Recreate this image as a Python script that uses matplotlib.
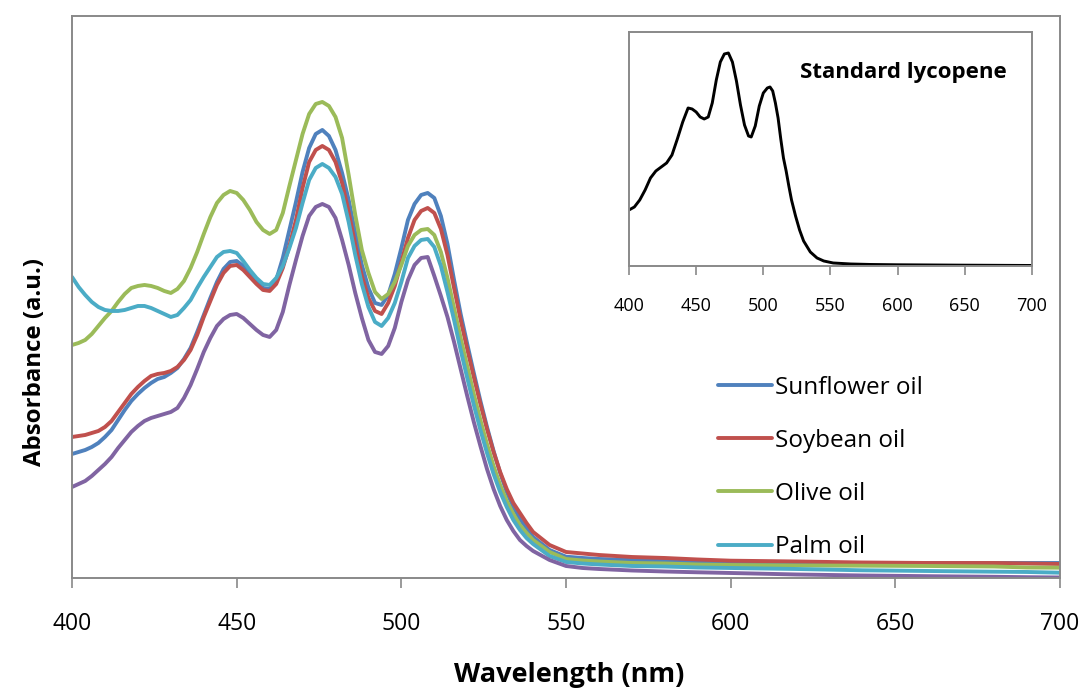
import numpy as np
import matplotlib
matplotlib.use("Agg")
import matplotlib.pyplot as plt

plt.rcParams['font.family'] = ['Open Sans', 'DejaVu Sans']

# wavelength grid (nm) shared by the oil spectra
wl = list(range(400, 541, 2)) + [545, 550, 555, 560, 570, 580, 590, 600,
                                 620, 640, 660, 680, 690, 700]

# absorbance (a.u.)
sunflower = [
    124, 126, 128, 131, 135, 141, 148, 158, 168, 177, 184, 190, 195, 199, 201, 205,
    210, 219, 230, 246, 263, 280, 296, 309, 316, 317, 312, 304, 296, 290, 289, 298,
    320, 348, 376, 406, 430, 444, 448, 442, 428, 405, 378, 345, 313, 290, 275, 273,
    283, 304, 330, 358, 374, 383, 385, 380, 362, 334, 298, 264, 234, 205, 177, 151,
    127, 105, 86, 71, 59, 50, 41,
    28, 21.3, 20, 19, 18, 17, 16, 15, 14.5, 15, 15, 15, 15, 15]

soybean = [
    141, 142, 143, 145, 147, 151, 157, 166, 175, 184, 191, 197, 202, 204, 205, 207,
    211, 218, 228, 243, 261, 277, 293, 305, 312, 313, 308, 301, 294, 288, 287, 294,
    310, 332, 358, 390, 416, 428, 432, 428, 416, 395, 366, 333, 302, 280, 267, 264,
    275, 292, 316, 340, 358, 367, 370, 365, 349, 323, 290, 258, 229, 201, 174, 149,
    126, 106, 89, 75, 65, 55, 46,
    33, 26, 24.5, 23, 21, 20, 18.5, 17.3, 16.5, 15.5, 15, 15, 14.5, 14]

olive = [
    233, 235, 238, 244, 252, 260, 267, 276, 284, 290, 292, 293, 292, 290, 287, 285,
    289, 297, 310, 326, 344, 361, 375, 383, 387, 385, 378, 368, 356, 348, 344, 348,
    365, 392, 418, 444, 464, 474, 476, 472, 461, 440, 403, 363, 328, 305, 286, 279,
    284, 296, 313, 332, 343, 348, 349, 343, 326, 300, 270, 240, 212, 184, 158, 134,
    112, 93, 77, 64, 53, 45, 38,
    26, 19, 17.5, 16.5, 15, 14.5, 13.5, 13, 12.5, 12.3, 12, 11.5, 10.5, 10.3]

palm = [
    301, 291, 283, 276, 271, 268, 267, 267, 268, 270, 272, 272, 270, 267, 264, 261,
    263, 270, 278, 290, 301, 311, 321, 326, 327, 325, 317, 308, 300, 294, 293, 300,
    312, 330, 350, 375, 398, 410, 414, 410, 401, 384, 356, 323, 294, 271, 256, 252,
    260, 275, 296, 320, 332, 338, 339, 331, 312, 286, 258, 228, 200, 173, 148, 125,
    104, 86, 71, 58, 48, 40, 34,
    22, 16, 14.5, 13.5, 12, 11.5, 10.5, 10, 9, 7.7, 7, 6.3, 6, 5.3]

other = [
    91, 94, 97, 102, 108, 114, 121, 130, 138, 146, 152, 157, 160, 162, 164, 166,
    170, 180, 193, 209, 226, 240, 252, 259, 263, 264, 260, 254, 248, 243, 241, 248,
    266, 293, 318, 342, 362, 371, 374, 371, 360, 338, 313, 285, 260, 238, 226, 224,
    232, 250, 276, 298, 313, 320, 321, 302, 282, 261, 236, 209, 182, 156, 132, 109,
    89, 72, 58, 47, 38, 32, 27,
    18, 12, 10, 9, 7.5, 6.5, 5.7, 5, 3.5, 2.5, 1.8, 1.2, 0.8, 0.5]

# standard lycopene spectrum for the inset
lyc_wl = [400, 404, 408, 412, 416, 420, 424, 428, 432, 436, 440, 444, 447,
          450, 453, 456, 459, 462, 465, 468, 471, 474, 477, 480, 483, 486,
          489, 491, 494, 497, 500, 503, 505, 507, 509, 511, 513, 515, 517,
          519, 521, 524, 527, 530, 535, 540, 545, 552, 565, 580, 600, 650, 700]
lyc_abs = [56, 59, 66, 76, 88, 95, 99, 103, 111, 127, 144, 158, 157,
           154, 149, 147, 149, 163, 186, 204, 212, 213, 204, 185, 161, 141,
           130, 129, 140, 160, 173, 178, 179, 175, 163, 148, 127, 108, 95,
           80, 66, 50, 36, 25, 14, 8, 5, 3, 2, 1.5, 1.2, 0.8, 0.5]

series = [
    (sunflower, 'Sunflower oil', '#4F81BD'),
    (soybean, 'Soybean oil', '#C0504D'),
    (olive, 'Olive oil', '#9BBB59'),
    (palm, 'Palm oil', '#4BACC6'),
    (other, None, '#8064A2'),
]

spine_col = '#898989'

fig = plt.figure(figsize=(10.8, 6.88), dpi=100)
ax = fig.add_axes([0.0667, 0.1599, 0.9148, 0.8169])

for vals, name, col in series:
    ax.plot(wl, np.array(vals) / 1000, color=col, lw=2.8, label=name,
            solid_capstyle='round', solid_joinstyle='round')

ax.set_xlim(400, 700)
ax.set_ylim(0, 0.562)
ax.set_xticks(range(400, 701, 50))
ax.set_yticks([])
ax.tick_params(axis='x', direction='out', length=7.5, width=1.2,
               color=spine_col, labelsize=16.5, pad=17)
for sp in ax.spines.values():
    sp.set_color(spine_col)
    sp.set_linewidth(1.4)

ax.set_ylabel('Absorbance (a.u.)', fontsize=17.3, fontweight='bold')
ax.yaxis.set_label_coords(-0.025, 0.384)
fig.text(0.527, 0.019, 'Wavelength (nm)', fontsize=19.5, fontweight='bold',
         ha='center', va='center')

handles, labels = ax.get_legend_handles_labels()
ax.legend(handles, labels, loc='upper left', bbox_to_anchor=(0.654, 0.36),
          frameon=False, fontsize=17.5, handlelength=2.2, handletextpad=0.15,
          labelspacing=1.2, borderpad=0, borderaxespad=0)

# inset: standard lycopene
ins = fig.add_axes([0.5824, 0.6134, 0.3731, 0.3401])
ins.plot(lyc_wl, np.array(lyc_abs) / 1000, color='black', lw=2.1,
         solid_joinstyle='round')
ins.set_xlim(400, 700)
ins.set_ylim(0, 0.234)
ins.set_xticks(range(400, 701, 50))
ins.set_yticks([])
ins.tick_params(axis='x', direction='out', length=6.5, width=1.2,
                color=spine_col, labelsize=13, pad=16)
for sp in ins.spines.values():
    sp.set_color(spine_col)
    sp.set_linewidth(1.4)
ins.text(0.424, 0.825, 'Standard lycopene', transform=ins.transAxes,
         fontsize=16, fontweight='bold', ha='left', va='center')

fig.savefig('out.png', dpi=100)
